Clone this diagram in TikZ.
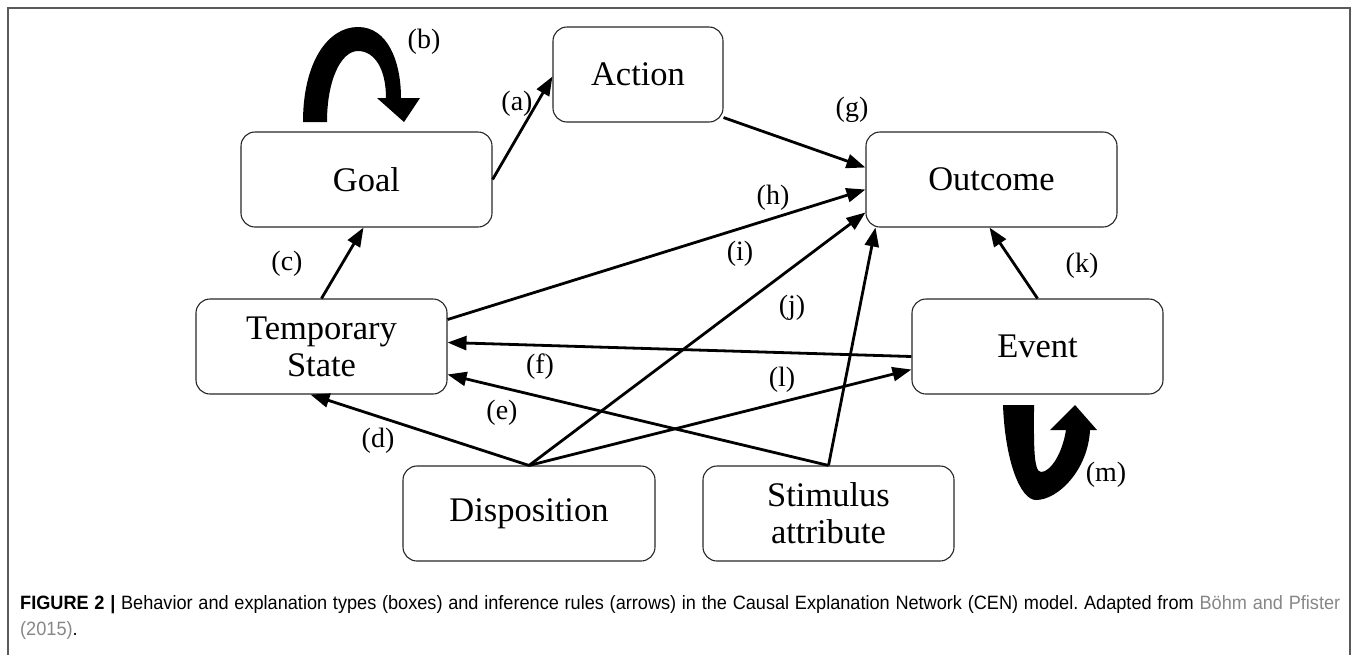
\documentclass[tikz,border=0pt]{standalone}
\usepackage{fontspec}
\setmainfont{Liberation Serif}
\newfontfamily\capfont[FakeStretch=0.94]{Liberation Sans}
\usetikzlibrary{arrows.meta,calc}
\definecolor{framegray}{RGB}{90,90,90}
\definecolor{refgray}{RGB}{135,135,135}
\frenchspacing
\begin{document}
\begin{tikzpicture}[x=1pt,y=-1pt,
  box/.style={draw=black!85, line width=1.1pt, rounded corners=14pt, minimum height=95pt,
    inner sep=0pt, align=center, font=\fontsize{34.5}{37}\selectfont},
  lab/.style={font=\fontsize{28}{30}\selectfont, inner sep=0pt},
  arr/.style={line width=2.8pt, -{Triangle[length=19pt,width=14pt]}},
  bigarrow/.style={fill=black}]
\useasboundingbox (0,0) rectangle (1358,654);
\draw[framegray, line width=1.6pt] (8,660) -- (8,8) -- (1350,8) -- (1350,660);

% boxes
\node[box, minimum width=170pt] (act) at (638,74.5) {Action};
\node[box, minimum width=251pt] (goal) at (366.5,179.5) {Goal};
\node[box, minimum width=251pt] (out) at (991.5,179.5) {Outcome};
\node[box, minimum width=251pt] (ts) at (321.5,346.5) {Temporary\\State};
\node[box, minimum width=251pt] (ev) at (1037.5,346.5) {Event};
\node[box, minimum width=252pt] (dis) at (529,513.5) {Disposition};
\node[box, minimum width=251pt] (sti) at (828.5,513.5) {Stimulus\\attribute};

% connectors
\draw[arr] (goal.east) -- ($(act.west)+(0,2)$);
\draw[arr] (ts.north) -- ($(goal.south)+(-3,0)$);
\draw[arr] (dis.north) -- ($(ts.south)+(-11,0)$);
\draw[arr] (sti.north) -- ($(ts.east)+(0,28)$);
\draw[arr] ($(ev.west)+(0,10)$) -- ($(ts.east)+(0,-4)$);
\draw[arr] ($(act.south east)+(0,-5)$) -- ($(out.west)+(0,-12)$);
\draw[arr] ($(ts.east)+(0,-27)$) -- ($(out.west)+(0,10)$);
\draw[arr] (dis.north) -- ($(out.west)+(0,33)$);
\draw[arr] (sti.north) -- ($(out.south west)+(10,0)$);
\draw[arr] (ev.north) -- ($(out.south)+(-2,0)$);
\draw[arr] (dis.north) -- ($(ev.west)+(0,23)$);

% self-loop arrows
\fill[bigarrow] (303,122) .. controls (303,62) and (328,27) .. (358,27)
  .. controls (388,27) and (401,62) .. (401,98) -- (420,98) -- (404,122) -- (377,98) -- (386,98)
  .. controls (386,68) and (374,51) .. (358,51)
  .. controls (341,51) and (327,80) .. (327,122) -- cycle;
\fill[bigarrow] (1003,405) .. controls (1005,460) and (1020,500) .. (1036,500)
  .. controls (1058,500) and (1088,470) .. (1090,430) -- (1097,430) -- (1075,405) -- (1050,430) -- (1066,430)
  .. controls (1062,455) and (1050,472) .. (1041,472)
  .. controls (1033,472) and (1034,440) .. (1034,405) -- cycle;

% labels
\node[lab] (la) at (517,104) {(a)};
\node[lab] (lb) at (424,42) {(b)};
\node[lab] (lc) at (287,264) {(c)};
\node[lab] (ld) at (378,441) {(d)};
\node[lab] (le) at (502,413) {(e)};
\node[lab] (lf) at (540,367) {(f)};
\node[lab] (lg) at (852,110) {(g)};
\node[lab] (lh) at (773,198) {(h)};
\node[lab] (li) at (740,254) {(i)};
\node[lab] (lj) at (792,308) {(j)};
\node[lab] (lk) at (1082,266) {(k)};
\node[lab] (ll) at (782,380) {(l)};
\node[lab] (lm) at (1106,475) {(m)};

% caption
\node[anchor=north west, inner sep=0pt, text width=1320pt, align=justify,
  font=\capfont\fontsize{19.3}{26}\selectfont] (cap) at (20,595)
  {\textbf{FIGURE 2 |} Behavior and explanation types (boxes) and inference rules (arrows) in the Causal Explanation Network (CEN) model. Adapted from \textcolor{refgray}{Böhm and Pfister}\linebreak \textcolor{refgray}{(2015)}.};
\end{tikzpicture}
\end{document}
